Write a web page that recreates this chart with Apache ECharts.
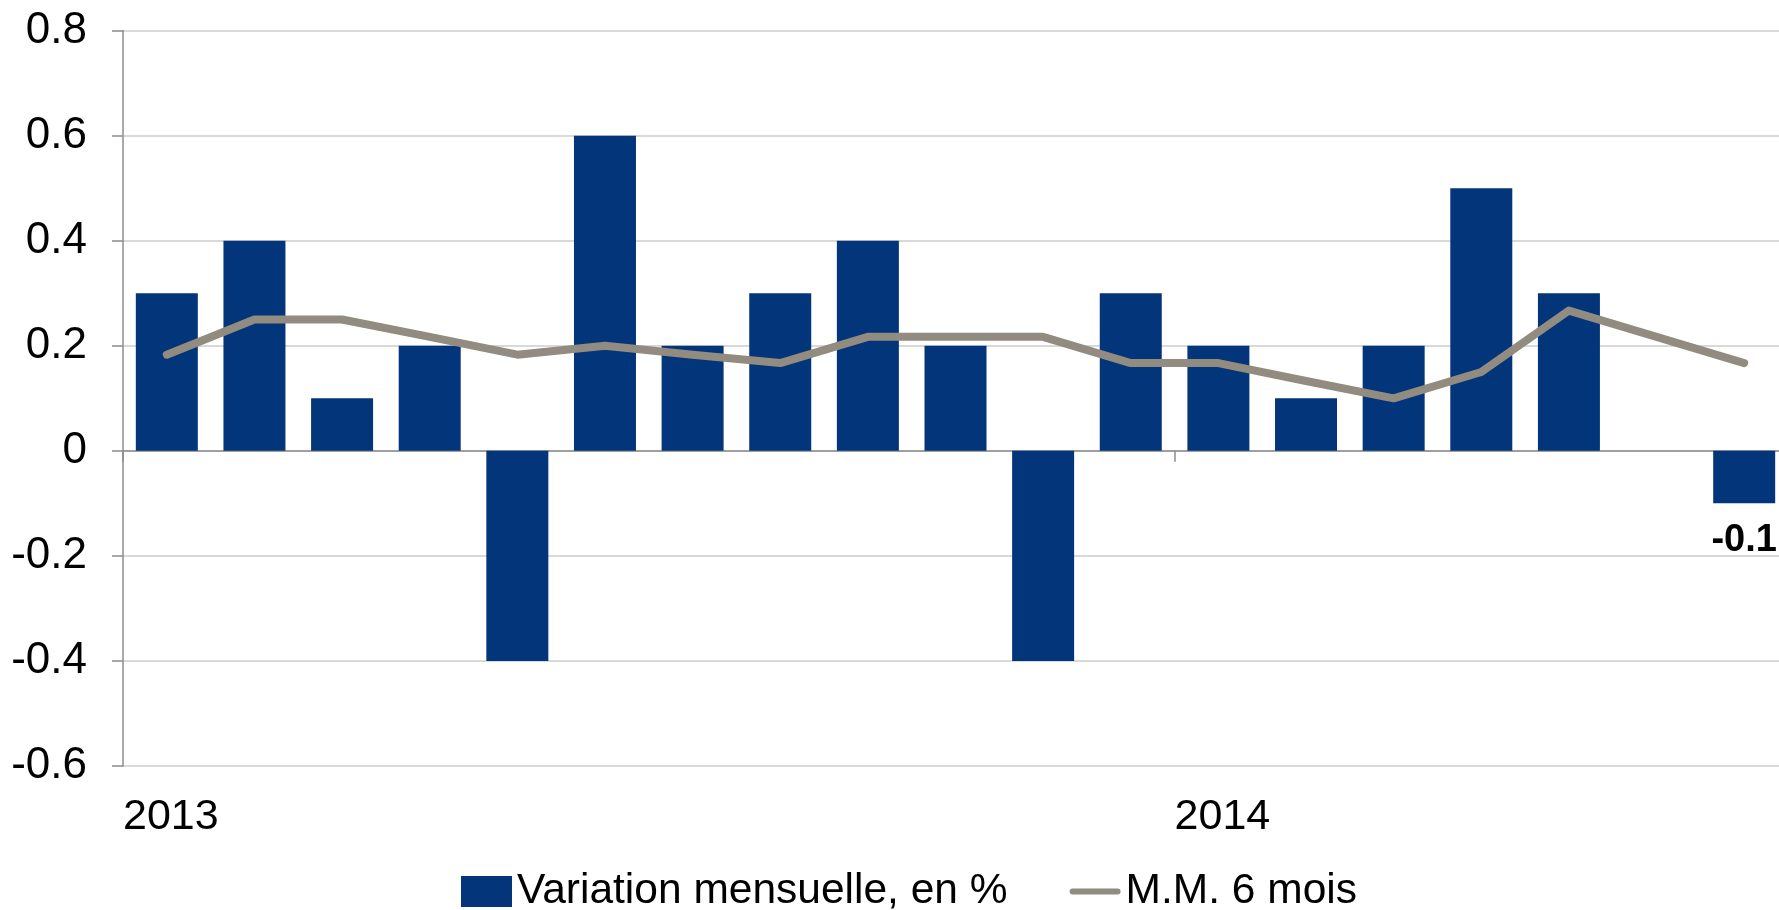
<!DOCTYPE html>
<html>
<head>
<meta charset="utf-8">
<script src="https://cdn.jsdelivr.net/npm/echarts@6/dist/echarts.min.js"></script>
<style>
html,body{margin:0;padding:0;background:#fff;overflow:hidden;width:1779px;height:910px;}
#chart{width:1788px;height:910px;}
</style>
</head>
<body>
<div id="chart"></div>
<script>
const categories = ['2013-01','2013-02','2013-03','2013-04','2013-05','2013-06','2013-07','2013-08','2013-09','2013-10','2013-11','2013-12','2014-01','2014-02','2014-03','2014-04','2014-05','2014-06','2014-07'];
const monthlyChange = [0.3,0.4,0.1,0.2,-0.4,0.6,0.2,0.3,0.4,0.2,-0.4,0.3,0.2,0.1,0.2,0.5,0.3,0,-0.1];
const movingAvg6 = [0.183,0.25,0.25,0.217,0.183,0.2,0.183,0.167,0.217,0.217,0.217,0.167,0.167,0.133,0.1,0.15,0.267,0.217,0.167];
const seriesNames = ['Variation mensuelle, en %','M.M. 6 mois'];
const yTicks = {min:-0.6, max:0.8, interval:0.2};

const FONT = '"Liberation Sans", Arial, sans-serif';
const chart = echarts.init(document.getElementById('chart'), null, {renderer:'canvas'});

const lastIdx = monthlyChange.length - 1;
const barData = monthlyChange.map((v,i) => i === lastIdx ? {
  value: v,
  label: {show:true, position:'bottom', distance:18, formatter: p => String(p.value),
          fontFamily:FONT, fontWeight:'bold', fontSize:38, color:'#000'}
} : v);

chart.setOption({
  animation:false,
  backgroundColor:'#fff',
  grid:{left:123, top:30.6, right:0, height:735.4, containLabel:false},
  legend:{
    left:456, top:865,
    itemWidth:51, itemHeight:31, itemGap:62,
    textStyle:{fontFamily:FONT, fontSize:42.5, color:'#000'},
    data:[
      {name:seriesNames[0], icon:'rect'},
      {name:seriesNames[1], icon:'path://M3,0 L47,0 A3,3 0 0 1 47,6 L3,6 A3,3 0 0 1 3,0 Z'}
    ]
  },
  xAxis:[
    {
      type:'category', data:categories, boundaryGap:true,
      axisLine:{show:true, onZero:true, lineStyle:{color:'#8c8c8c', width:1.5}},
      axisTick:{show:true, length:11, interval:(i)=> categories[i] && categories[i].endsWith('-01'), lineStyle:{color:'#8c8c8c', width:1.5}},
      axisLabel:{show:false},
      splitLine:{show:false}
    },
    {
      type:'value', min:0, max:categories.length, interval:1, position:'bottom',
      axisLine:{show:false}, axisTick:{show:false}, splitLine:{show:false},
      axisLabel:{
        show:true, align:'left', margin:30, fontFamily:FONT, fontSize:43, color:'#000',
        showMinLabel:true, showMaxLabel:false,
        formatter:(v)=>{ const c = categories[v]; return (c && c.endsWith('-01')) ? c.slice(0,4) : ''; }
      }
    }
  ],
  yAxis:{
    type:'value', min:yTicks.min, max:yTicks.max, interval:yTicks.interval,
    axisLine:{show:true, onZero:false, lineStyle:{color:'#8c8c8c', width:1.5}},
    axisTick:{show:true, length:11, lineStyle:{color:'#8c8c8c', width:1.5}},
    axisLabel:{margin:36, fontFamily:FONT, fontSize:44, color:'#000',
      formatter:(v)=> String(+v.toFixed(1))},
    splitLine:{show:true, lineStyle:{color:'#d9d9d9', width:2}}
  },
  series:[
    {
      name:seriesNames[0], type:'bar', xAxisIndex:0, data:barData,
      barWidth:62, itemStyle:{color:'#03357a'}, z:2
    },
    {
      name:seriesNames[1], type:'line', xAxisIndex:0, data:movingAvg6,
      symbol:'none', smooth:false,
      lineStyle:{color:'#918b80', width:8, cap:'round', join:'round'},
      itemStyle:{color:'#918b80'}, z:3
    }
  ]
});
</script>
</body>
</html>
